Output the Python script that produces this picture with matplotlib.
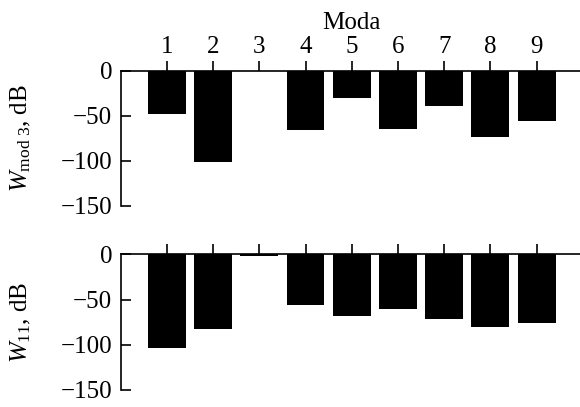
import numpy as np
import matplotlib
matplotlib.use("Agg")
import matplotlib.pyplot as plt

plt.rcParams['font.family'] = 'Liberation Serif'
plt.rcParams['mathtext.fontset'] = 'custom'
plt.rcParams['mathtext.rm'] = 'Liberation Serif'
plt.rcParams['mathtext.it'] = 'Liberation Serif:italic'

modes = [1, 2, 3, 4, 5, 6, 7, 8, 9]
w_mod3 = [-48, -102, 0, -66, -30, -65, -39, -74, -56]
w_11 = [-104, -83, -1.5, -56, -68, -61, -71, -80, -76]
yticks = [0, -50, -100, -150]
ytick_labels = ['0', '\u221250', '\u2212100', '\u2212150']

fig = plt.figure(figsize=(5.8, 4.07), dpi=100)
ax1 = fig.add_axes([0.208, 0.4946, 0.797, 0.3317])
ax2 = fig.add_axes([0.208, 0.0418, 0.797, 0.3334])

def style(ax, values, ylabel, show_labels):
    ax.bar(modes, values, width=0.82, color='black')
    ax.set_xlim(0, 10)
    ax.set_ylim(-150, 0)
    for s in ['right', 'bottom']:
        ax.spines[s].set_visible(False)
    ax.spines['left'].set_linewidth(1.2)
    ax.spines['top'].set_linewidth(1.2)
    ax.xaxis.tick_top()
    ax.set_xticks(modes)
    if show_labels:
        ax.set_xticklabels([str(m) for m in modes])
        ax.xaxis.set_label_position('top')
        ax.set_xlabel('Moda', fontsize=18, labelpad=5)
    else:
        ax.set_xticklabels([])
    ax.tick_params(axis='x', direction='out', length=7, width=1.2, labelsize=18, pad=2)
    ax.set_yticks(yticks)
    ax.set_yticklabels(ytick_labels)
    ax.tick_params(axis='y', direction='in', length=7, width=1.2, labelsize=18, pad=6)
    ax.set_ylabel(ylabel, fontsize=18)
    ax.yaxis.set_label_coords(-0.19, 0.5)

style(ax1, w_mod3, r'$W_{\mathrm{mod\ 3}}$, dB', True)
style(ax2, w_11, r'$W_{\mathrm{11}}$, dB', False)

fig.savefig('out.png', dpi=100)
